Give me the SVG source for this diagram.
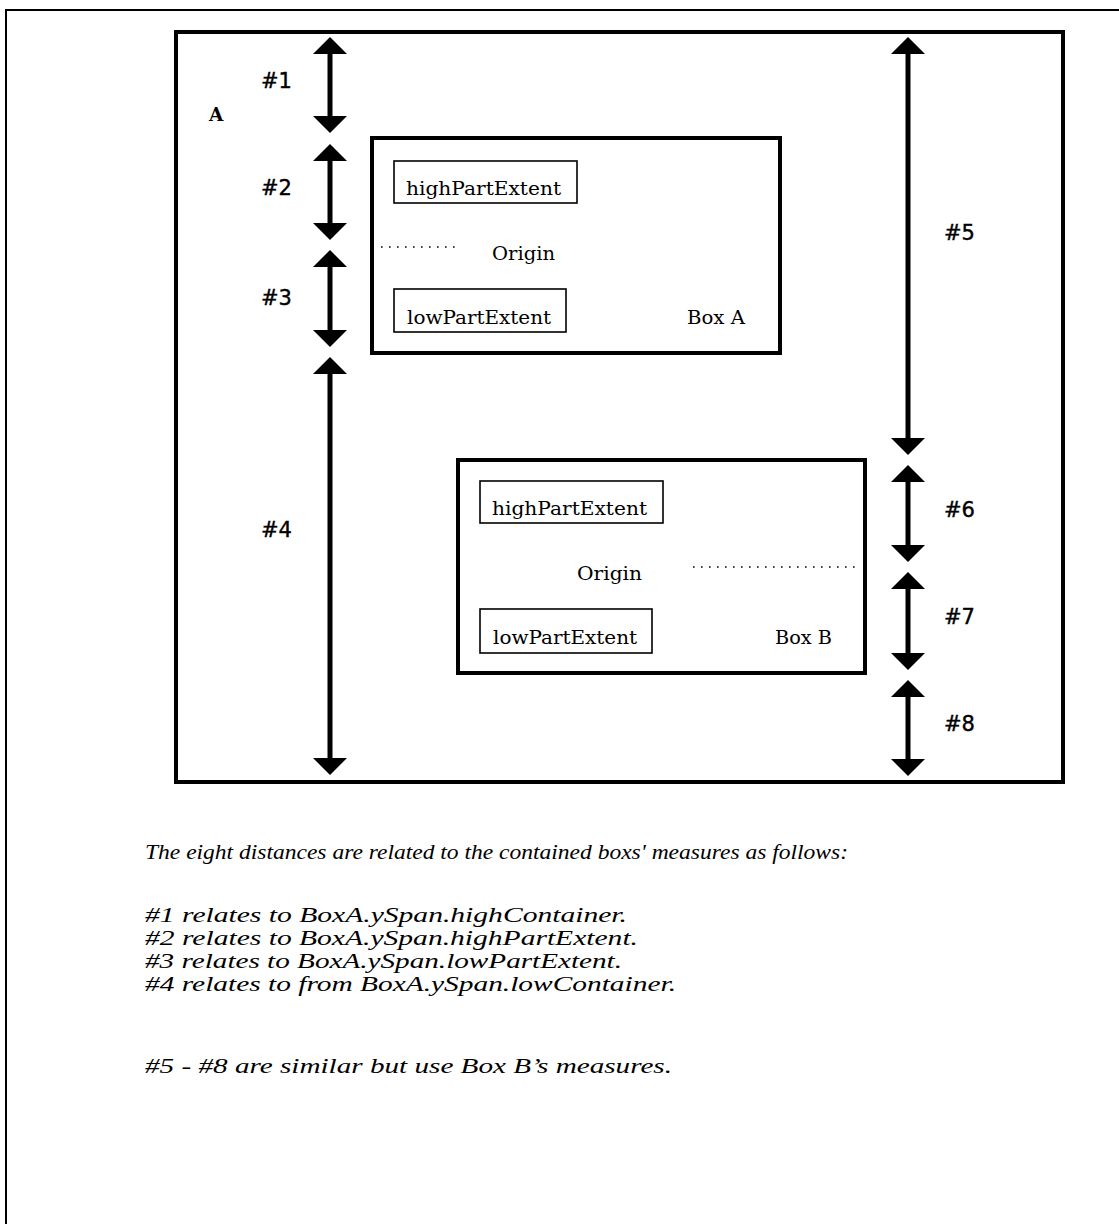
<svg xmlns="http://www.w3.org/2000/svg" width="1119" height="1224" viewBox="0 0 1119 1224">
<defs>
<style>
.frame{fill:none;stroke:#000;stroke-width:2}
.box{fill:none;stroke:#000;stroke-width:4}
.ibox{fill:none;stroke:#000;stroke-width:1.6}
.shaft{fill:none;stroke:#000;stroke-width:5;marker-start:url(#head);marker-end:url(#head)}
.dots{fill:none;stroke:#000;stroke-width:1.6;stroke-dasharray:1.6 6.4}
.num{font-family:"DejaVu Sans","Liberation Sans",sans-serif;font-size:21px;fill:#000;stroke:#000;stroke-width:0.4}
.lbl{font-family:"DejaVu Serif","Liberation Serif",serif;font-size:18.5px;fill:#000}
.cap{font-family:"Liberation Serif","DejaVu Serif",serif;font-style:italic;font-size:22px;fill:#000}
</style>
<marker id="head" viewBox="0 -17 17 34" refX="7" refY="0" markerWidth="17" markerHeight="34" markerUnits="userSpaceOnUse" orient="auto-start-reverse">
<path d="M0,-17 L17,0 L0,17 z" fill="#000"/>
</marker>
</defs>
<rect width="1119" height="1224" fill="#fff"/>
<path class="frame" d="M6,1224 V10 H1119"/>
<g id="container">
<rect class="box" x="176" y="32" width="887" height="750"/>
<text class="lbl" x="209" y="121" font-weight="bold" font-size="17">A</text>
</g>
<g id="boxA">
<rect class="box" x="372" y="138" width="408" height="215"/>
<text class="lbl" x="687" y="324" textLength="58" lengthAdjust="spacingAndGlyphs">Box A</text>
</g>
<g id="boxA-high">
<rect class="ibox" x="394" y="161" width="183" height="42"/>
<text class="lbl" x="406" y="195" textLength="155" lengthAdjust="spacingAndGlyphs">highPartExtent</text>
</g>
<g id="boxA-origin">
<line class="dots" x1="381" y1="247" x2="458" y2="247"/>
<text class="lbl" x="492" y="260" textLength="63" lengthAdjust="spacingAndGlyphs">Origin</text>
</g>
<g id="boxA-low">
<rect class="ibox" x="394" y="289" width="172" height="43"/>
<text class="lbl" x="407" y="324" textLength="144" lengthAdjust="spacingAndGlyphs">lowPartExtent</text>
</g>
<g id="boxB">
<rect class="box" x="458" y="460" width="407" height="213"/>
<text class="lbl" x="775" y="644" textLength="57" lengthAdjust="spacingAndGlyphs">Box B</text>
</g>
<g id="boxB-high">
<rect class="ibox" x="480" y="481" width="183" height="42"/>
<text class="lbl" x="492" y="515" textLength="155" lengthAdjust="spacingAndGlyphs">highPartExtent</text>
</g>
<g id="boxB-origin">
<line class="dots" x1="693" y1="567" x2="858" y2="567"/>
<text class="lbl" x="577" y="580" textLength="65" lengthAdjust="spacingAndGlyphs">Origin</text>
</g>
<g id="boxB-low">
<rect class="ibox" x="480" y="609" width="172" height="44"/>
<text class="lbl" x="493" y="644" textLength="144" lengthAdjust="spacingAndGlyphs">lowPartExtent</text>
</g>
<g id="connectors">
<line class="shaft" x1="330" y1="47" x2="330" y2="123"/>
<line class="shaft" x1="330" y1="154" x2="330" y2="230"/>
<line class="shaft" x1="330" y1="260" x2="330" y2="337"/>
<line class="shaft" x1="330" y1="367" x2="330" y2="765"/>
<line class="shaft" x1="908" y1="47" x2="908" y2="445"/>
<line class="shaft" x1="908" y1="475" x2="908" y2="552"/>
<line class="shaft" x1="908" y1="582" x2="908" y2="660"/>
<line class="shaft" x1="908" y1="690" x2="908" y2="766"/>
</g>
<g id="labels">
<text class="num" x="261" y="88">#1</text>
<text class="num" x="261" y="195">#2</text>
<text class="num" x="261" y="305">#3</text>
<text class="num" x="261" y="537">#4</text>
<text class="num" x="944" y="240">#5</text>
<text class="num" x="944" y="517">#6</text>
<text class="num" x="944" y="624">#7</text>
<text class="num" x="944" y="731">#8</text>
</g>
<g id="caption">
<text class="cap" x="145" y="859" textLength="703" lengthAdjust="spacingAndGlyphs">The eight distances are related to the contained boxs' measures as follows:</text>
<text class="cap" x="145" y="922" textLength="482" lengthAdjust="spacingAndGlyphs">#1 relates to BoxA.ySpan.highContainer.</text>
<text class="cap" x="145" y="945" textLength="493" lengthAdjust="spacingAndGlyphs">#2 relates to BoxA.ySpan.highPartExtent.</text>
<text class="cap" x="145" y="968" textLength="477" lengthAdjust="spacingAndGlyphs">#3 relates to BoxA.ySpan.lowPartExtent.</text>
<text class="cap" x="145" y="991" textLength="531" lengthAdjust="spacingAndGlyphs">#4 relates to from BoxA.ySpan.lowContainer.</text>
<text class="cap" x="145" y="1073" textLength="527" lengthAdjust="spacingAndGlyphs">#5 - #8 are similar but use Box B’s measures.</text>
</g>
</svg>
